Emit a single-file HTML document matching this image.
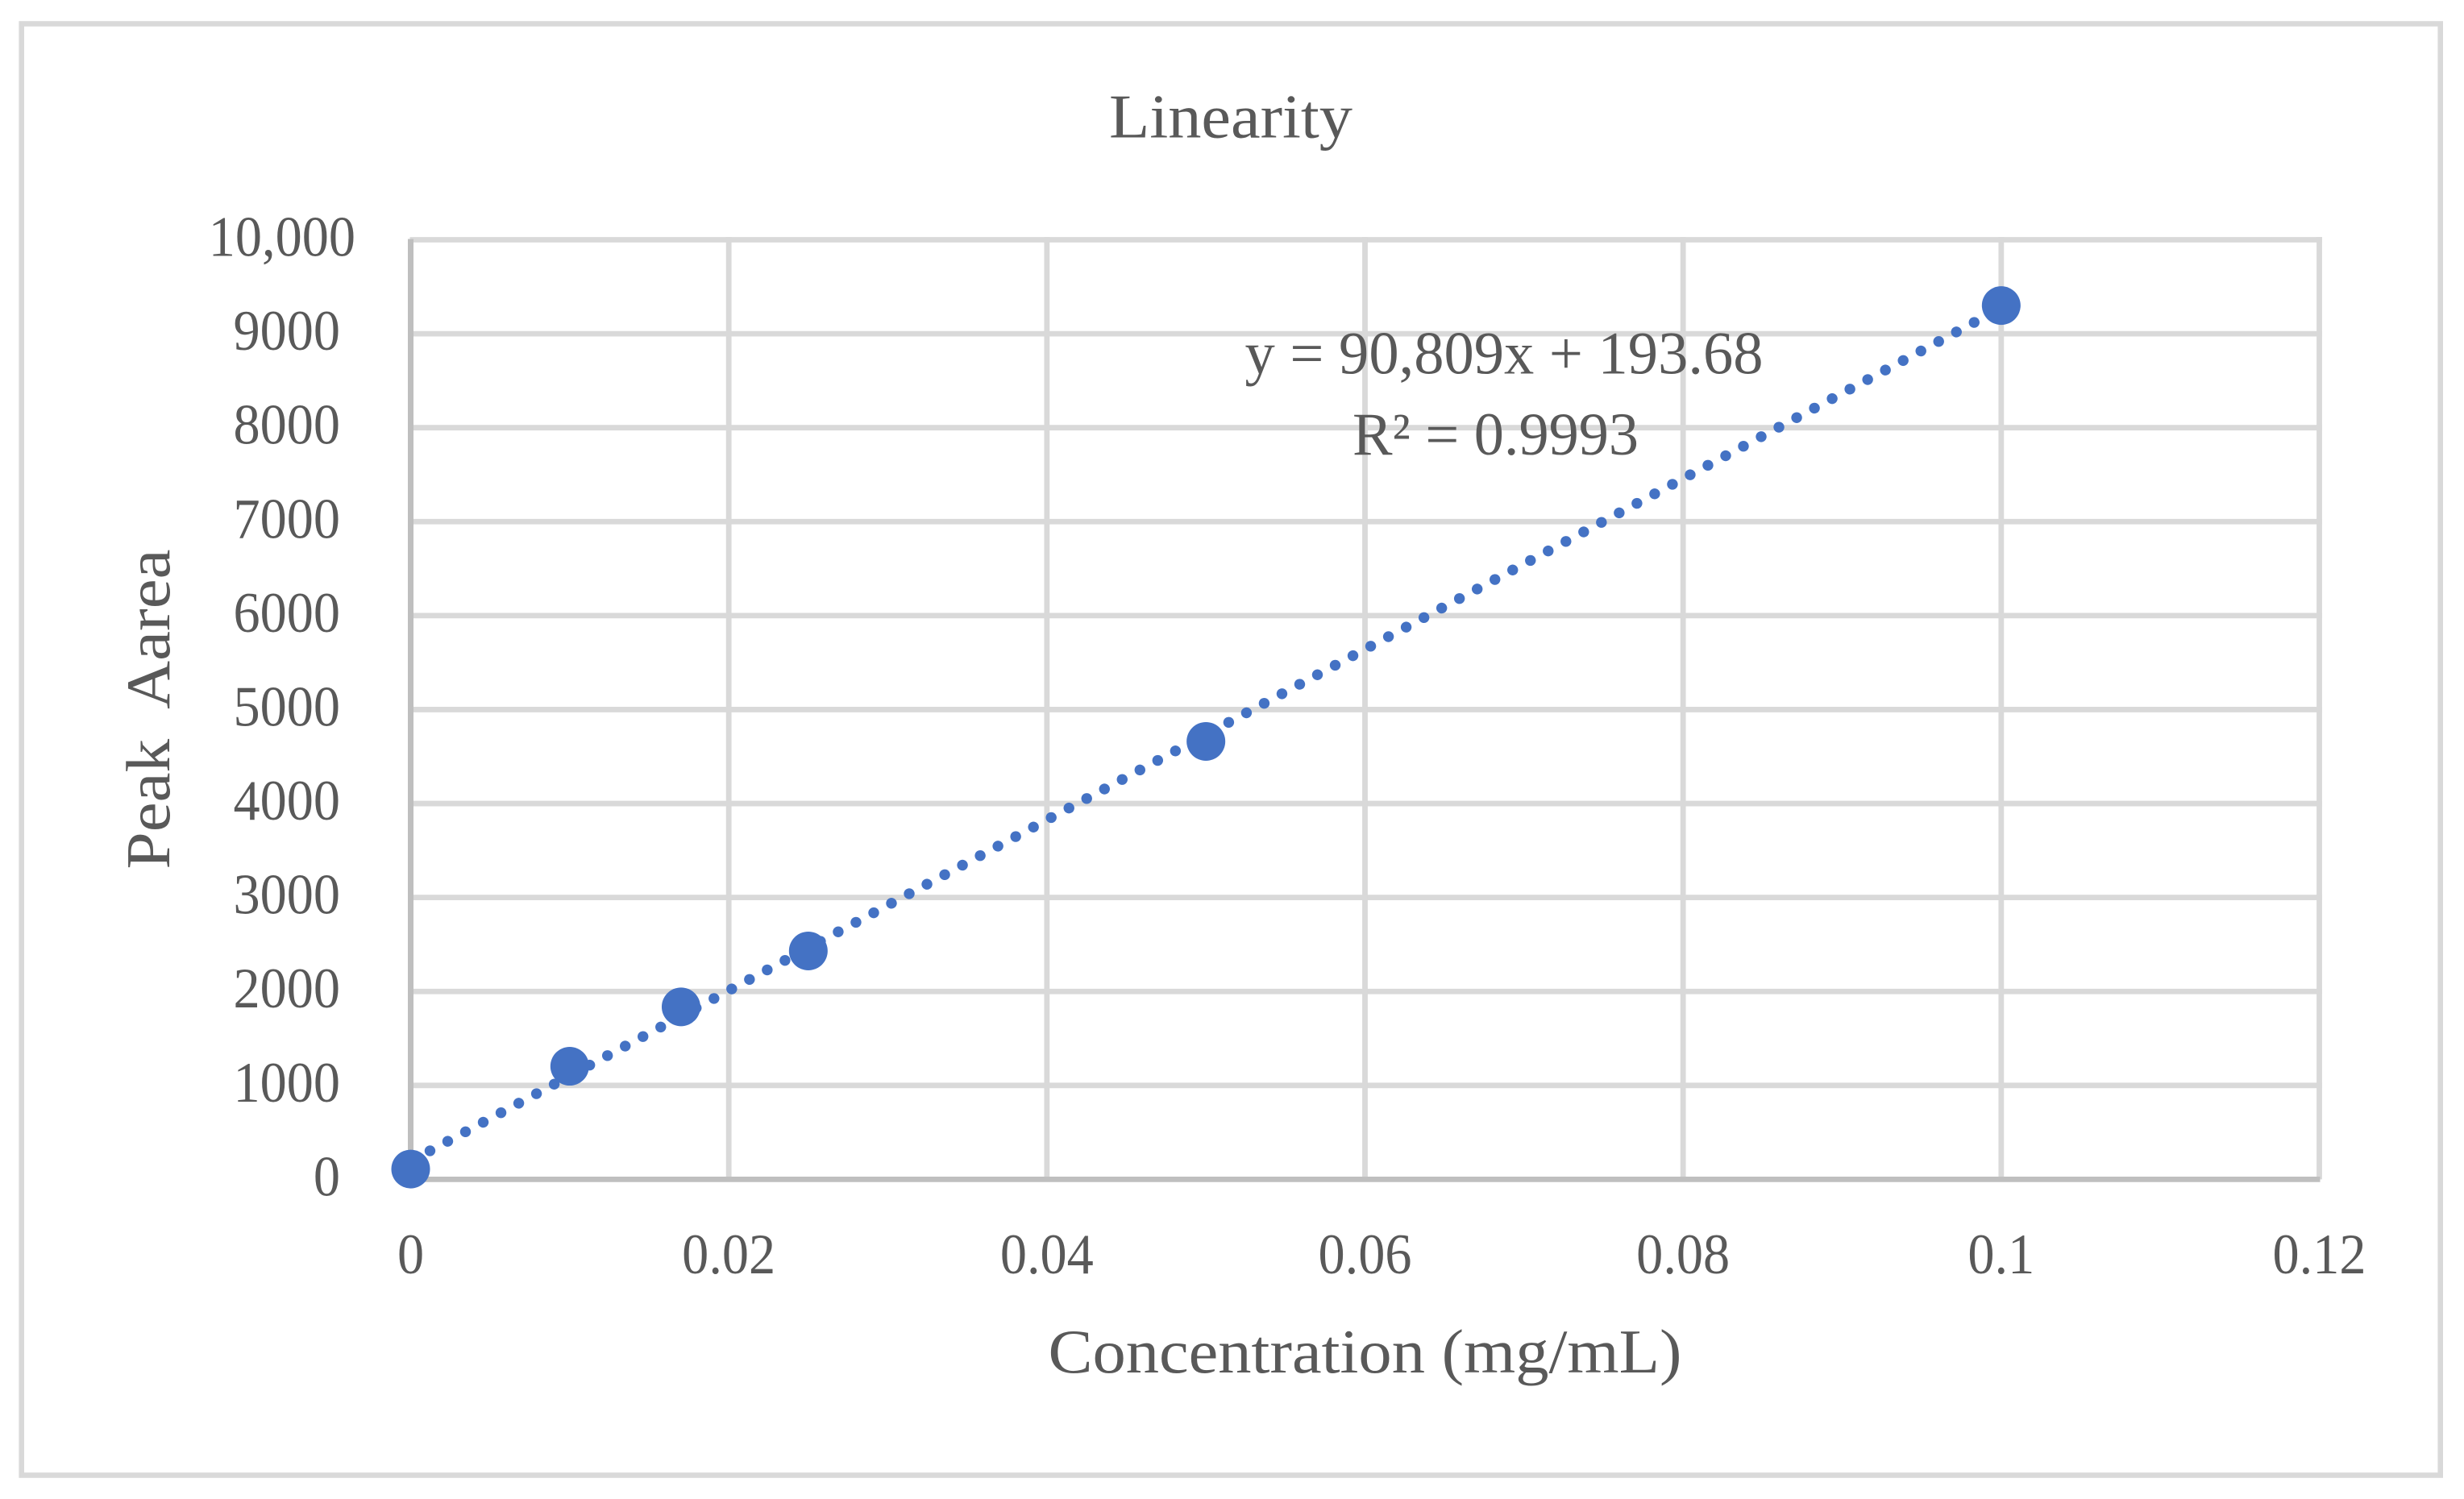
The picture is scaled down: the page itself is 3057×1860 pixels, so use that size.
<!DOCTYPE html>
<html>
<head>
<meta charset="utf-8">
<title>Linearity</title>
<style>
html,body{margin:0;padding:0;background:#fff;}
svg{display:block;}
text{font-family:"Liberation Serif",serif;fill:#595959;}
</style>
</head>
<body>
<svg id="chart" xmlns="http://www.w3.org/2000/svg" width="3057" height="1860" viewBox="0 0 3057 1860">
  <rect x="0" y="0" width="3057" height="1860" fill="#ffffff"/>
  <rect x="26.7" y="29.5" width="3001" height="1801" fill="none" stroke="#d9d9d9" stroke-width="6.6"/>
  <g id="grid"></g>
  <g id="axes"></g>
  <g id="ticks"></g>
  <g id="series"></g>
  <text x="1376" y="170.7" font-size="77" textLength="302" lengthAdjust="spacingAndGlyphs">Linearity</text>
  <text transform="translate(210,1078.5) rotate(-90)" font-size="77" textLength="397" lengthAdjust="spacingAndGlyphs" xml:space="preserve">Peak  Aarea</text>
  <text x="1300.5" y="1703" font-size="77" textLength="786" lengthAdjust="spacingAndGlyphs">Concentration (mg/mL)</text>
  <text x="1544.5" y="463.3" font-size="75" textLength="643" lengthAdjust="spacingAndGlyphs">y = 90,809x + 193.68</text>
  <text x="1678" y="564" font-size="75" textLength="355" lengthAdjust="spacingAndGlyphs">R² = 0.9993</text>
</svg>
<script>
const concentrations = [0, 0.01, 0.017, 0.025, 0.05, 0.1];
const peakAreas = [110, 1204, 1836, 2431, 4661, 9300];
const trendX = [0, 0.1];
const trendY = [193.68, 9274.58];
const xTicks = [0, 0.02, 0.04, 0.06, 0.08, 0.1, 0.12];
const xTickLabels = ['0', '0.02', '0.04', '0.06', '0.08', '0.1', '0.12'];
const yTicks = [0, 1000, 2000, 3000, 4000, 5000, 6000, 7000, 8000, 9000, 10000];
const yTickLabels = ['0', '1000', '2000', '3000', '4000', '5000', '6000', '7000', '8000', '9000', '10,000'];

const NS = 'http://www.w3.org/2000/svg';
const plotLeft = 509.5, plotRight = 2877.5, plotTop = 297.5, plotBottom = 1463.4;
const xMax = 0.12, yMax = 10000;
function xScale(v) { return plotLeft + (v / xMax) * (plotRight - plotLeft); }
function yScale(v) { return plotBottom - (v / yMax) * (plotBottom - plotTop); }
function make(tag, parent, attrs) {
  const el = document.createElementNS(NS, tag);
  for (const k in attrs) el.setAttribute(k, attrs[k]);
  parent.appendChild(el);
  return el;
}
const gridG = document.getElementById('grid');
const axesG = document.getElementById('axes');
const ticksG = document.getElementById('ticks');
const seriesG = document.getElementById('series');

yTicks.forEach(function (t, i) {
  if (t !== 0) {
    const line = make('line', gridG, {x1: plotLeft - 1, x2: plotRight + 3.4, y1: yScale(t), y2: yScale(t), stroke: '#d9d9d9', 'stroke-width': 6.8});
    
    
  }
  const right = t === 10000 ? 441 : 422;
  const label = make('text', ticksG, {transform: 'translate(' + right + ',' + (yScale(t) + 20) + ') scale(0.94,1)', 'text-anchor': 'end', 'font-size': 70.5});
  label.textContent = yTickLabels[i];
  
  
});

xTicks.forEach(function (t, i) {
  if (t !== 0) {
    const line = make('line', gridG, {x1: xScale(t), x2: xScale(t), y1: plotTop - 3.4, y2: plotBottom, stroke: '#d9d9d9', 'stroke-width': 6.8});
    
    
  }
  const label = make('text', ticksG, {transform: 'translate(' + xScale(t) + ',1580) scale(0.94,1)', 'text-anchor': 'middle', 'font-size': 70.5});
  label.textContent = xTickLabels[i];
  
  
});

const yAxisLine = make('line', axesG, {x1: plotLeft, x2: plotLeft, y1: plotTop - 1, y2: plotBottom + 3.4, stroke: '#bfbfbf', 'stroke-width': 7});


const xAxisLine = make('line', axesG, {x1: plotLeft - 3.4, x2: plotRight + 1, y1: plotBottom, y2: plotBottom, stroke: '#bfbfbf', 'stroke-width': 6.8});



const trend = make('line', seriesG, {x1: xScale(trendX[0]), y1: yScale(trendY[0]), x2: xScale(trendX[1]), y2: yScale(trendY[1]), stroke: '#4472c4', 'stroke-width': 13.4, 'stroke-linecap': 'round', 'stroke-dasharray': '0.01 24.98', 'stroke-dashoffset': -2.2});



concentrations.forEach(function (c, i) {
  const dot = make('circle', seriesG, {cx: xScale(c), cy: yScale(peakAreas[i]), r: 24, fill: '#4472c4'});
  
  
});
</script>
</body>
</html>
